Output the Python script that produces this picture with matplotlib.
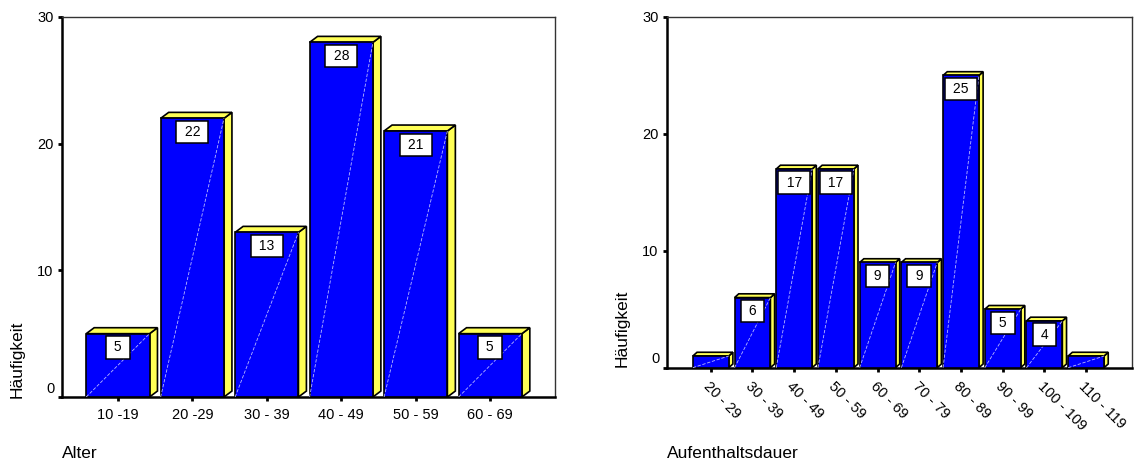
import matplotlib.pyplot as plt
from matplotlib.patches import Polygon

plt.rcParams['font.family'] = ['Liberation Sans', 'DejaVu Sans']

# Alter
alter_labels = ['10 -19', '20 -29', '30 - 39', '40 - 49', '50 - 59', '60 - 69']
alter_counts = [5, 22, 13, 28, 21, 5]

# Aufenthaltsdauer
dauer_labels = ['20 - 29', '30 - 39', '40 - 49', '50 - 59', '60 - 69', '70 - 79',
                '80 - 89', '90 - 99', '100 - 109', '110 - 119']
dauer_counts = [1, 6, 17, 17, 9, 9, 25, 5, 4, 1]

BLUE = '#0000ff'
YELLOW = '#ffff55'


def bars3d(ax, counts, w, dx, dy):
    for i, h in enumerate(counts):
        x0 = i - w / 2
        x1 = i + w / 2
        front = Polygon([(x0, 0), (x1, 0), (x1, h), (x0, h)], closed=True,
                        fc=BLUE, ec='black', lw=1.2, zorder=3)
        side = Polygon([(x1, 0), (x1 + dx, dy), (x1 + dx, h + dy), (x1, h)], closed=True,
                       fc=YELLOW, ec='black', lw=1.2, zorder=3)
        top = Polygon([(x0, h), (x0 + dx, h + dy), (x1 + dx, h + dy), (x1, h)], closed=True,
                      fc=YELLOW, ec='black', lw=1.2, zorder=3)
        for p in (side, top, front):
            ax.add_patch(p)
        ax.plot([x0, x1], [0, h], color='#b8b8ff', lw=0.6, ls=(0, (4, 2)), zorder=4)
        # bars too short for the box get no label
        if h < 2:
            continue
        ax.annotate(f' {h} ', xy=(i, h), xytext=(0, -4.8), textcoords='offset points',
                    ha='center', va='top', fontsize=10, zorder=5,
                    bbox=dict(boxstyle='square,pad=0.3', fc='white', ec='black', lw=1.1))


def style(ax):
    ax.set_ylim(0, 30)
    ax.set_yticks([0, 10, 20, 30])
    ax.set_yticklabels(['', '10', '20', '30'])
    ax.annotate('0', xy=(0, 0), xycoords=('axes fraction', 'data'), xytext=(-5, 6),
                textcoords='offset points', ha='right', va='center', fontsize=10.5)
    for s in ('left', 'bottom'):
        ax.spines[s].set_linewidth(1.8)
    for s in ('top', 'right'):
        ax.spines[s].set_linewidth(1.0)
        ax.spines[s].set_color('#333333')
    ax.tick_params(axis='y', length=3, width=2, pad=3, labelsize=10.5)
    ax.tick_params(axis='x', length=3, width=2, labelsize=10.5)


fig = plt.figure(figsize=(11.36, 4.62), dpi=100)

ax1 = fig.add_axes([62 / 1136, 65 / 462, 493 / 1136, 380 / 462])
bars3d(ax1, alter_counts, 0.85, 0.107, 0.47)
ax1.set_xlim(-0.75, 5.87)
ax1.set_xticks(range(len(alter_labels)))
ax1.set_xticklabels(alter_labels)
style(ax1)
ax1.tick_params(axis='x', pad=5)

ax2 = fig.add_axes([667 / 1136, 94.3 / 462, 465 / 1136, 350.7 / 462])
bars3d(ax2, dauer_counts, 0.86, 0.1, 0.32)
ax2.set_xlim(-1.05, 10.1)
ax2.set_xticks(range(len(dauer_labels)))
style(ax2)
ax2.set_xticklabels(dauer_labels, rotation=-45, ha='left', va='top', rotation_mode='anchor')
ax2.tick_params(axis='x', pad=5)

fig.text(17 / 1136, 1 - 398 / 462, 'Häufigkeit', rotation=90, ha='center', va='bottom',
         fontsize=12.5)
fig.text(622 / 1136, 1 - 367 / 462, 'Häufigkeit', rotation=90, ha='center', va='bottom',
         fontsize=12.5)
fig.text(62 / 1136, 1 - 454 / 462, 'Alter', ha='left', va='center', fontsize=12.5)
fig.text(667 / 1136, 1 - 453 / 462, 'Aufenthaltsdauer', ha='left', va='center', fontsize=12.5)

fig.savefig('out.png', dpi=100)
